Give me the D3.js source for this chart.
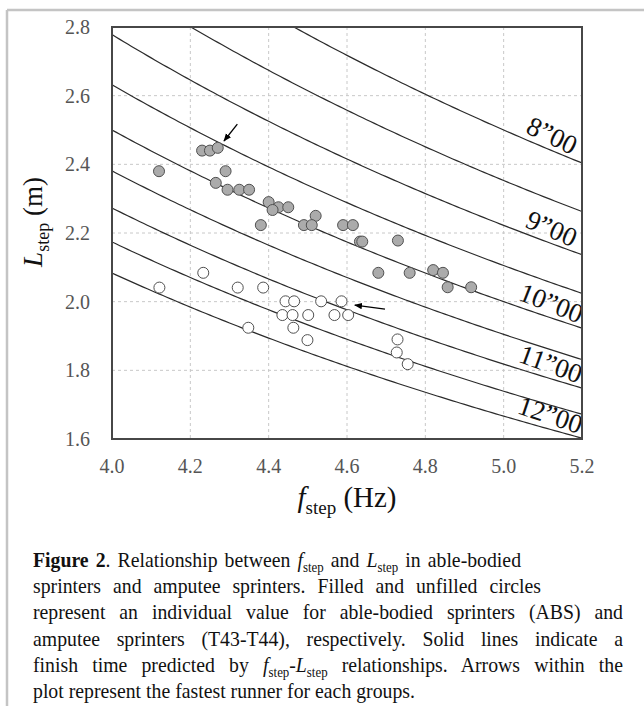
<!DOCTYPE html>
<html>
<head>
<meta charset="utf-8">
<script src="https://cdn.jsdelivr.net/npm/d3@7"></script>
<style>
  html, body { margin: 0; padding: 0; background: #fff; }
  svg { display: block; font-family: "Liberation Serif", "Times New Roman", serif; }
</style>
</head>
<body>
<svg id="fig" width="644" height="706"></svg>
<script>
// finish-time iso lines (s) and the ones carrying a label
const finishTimes = [8, 8.5, 9, 9.5, 10, 10.5, 11, 11.5, 12];
const labeledTimes = [8, 9, 10, 11, 12];
const timeLabels = ["8”00", "9”00", "10”00", "11”00", "12”00"];

const xTicks = [4.0, 4.2, 4.4, 4.6, 4.8, 5.0, 5.2];
const yTicks = [1.6, 1.8, 2.0, 2.2, 2.4, 2.6, 2.8];

// able-bodied sprinters (filled)
const absFreq = [4.12, 4.23, 4.25, 4.27, 4.29, 4.265, 4.295, 4.325, 4.35, 4.40, 4.425, 4.41, 4.45, 4.52,
                 4.38, 4.49, 4.51, 4.59, 4.615, 4.633, 4.639, 4.73, 4.68, 4.76, 4.82, 4.845, 4.857, 4.917];
const absLen  = [2.38, 2.44, 2.44, 2.448, 2.38, 2.346, 2.326, 2.326, 2.326, 2.29, 2.275, 2.267, 2.275, 2.25,
                 2.223, 2.223, 2.223, 2.223, 2.223, 2.175, 2.175, 2.178, 2.084, 2.084, 2.092, 2.084, 2.042, 2.042];

// amputee sprinters T43-T44 (unfilled)
const ampFreq = [4.233, 4.121, 4.321, 4.386, 4.443, 4.465, 4.534, 4.586, 4.435, 4.461, 4.501, 4.568,
                 4.603, 4.463, 4.348, 4.499, 4.729, 4.727, 4.755];
const ampLen  = [2.084, 2.041, 2.041, 2.041, 2.001, 2.001, 2.001, 2.001, 1.961, 1.961, 1.961, 1.961,
                 1.961, 1.924, 1.924, 1.888, 1.890, 1.852, 1.818];

// arrows marking the fastest runner of each group: [fromF, fromL, toF, toL]
const arrows = [[4.320, 2.517, 4.286, 2.468], [4.697, 1.978, 4.620, 1.990]];

const captionLines = [
  [["Figure 2", "b"], [". Relationship between "], ["f", "i"], ["step", "sub"], [" and "], ["L", "i"], ["step", "sub"], [" in able-bodied"]],
  [["sprinters and amputee sprinters. Filled and unfilled circles"]],
  [["represent an individual value for able-bodied sprinters (ABS) and"]],
  [["amputee sprinters (T43-T44), respectively. Solid lines indicate a"]],
  [["finish time predicted by "], ["f", "i"], ["step", "sub"], ["-"], ["L", "i"], ["step", "sub"], [" relationships. Arrows within the"]],
  [["plot represent the fastest runner for each groups."]]
];
// right edge of each caption line (null = natural spacing)
const captionEnds = [521, 541, 623, 623, 623, null];

const svg = d3.select("#fig");
const margin = { top: 27, left: 112 };
const width = 470, height = 412;
const serif = '"Liberation Serif", "Times New Roman", serif';

// outer figure frame (top and left edges only)
svg.append("line").attr("x1", 7).attr("x2", 644).attr("y1", 10).attr("y2", 10)
  .attr("stroke", "#c4c4c4").attr("stroke-width", 2.5);
svg.append("line").attr("x1", 7).attr("x2", 7).attr("y1", 10).attr("y2", 706)
  .attr("stroke", "#c4c4c4").attr("stroke-width", 2.5);

const x = d3.scaleLinear().domain([4.0, 5.2]).range([0, width]);
const y = d3.scaleLinear().domain([1.6, 2.8]).range([height, 0]);

const g = svg.append("g").attr("transform", `translate(${margin.left},${margin.top})`);

g.append("clipPath").attr("id", "clip")
  .append("rect").attr("width", width).attr("height", height);

// dashed grid
g.selectAll(".vgrid").data(xTicks.slice(1, -1)).enter().append("line")
  .attr("x1", d => x(d)).attr("x2", d => x(d)).attr("y1", 0).attr("y2", height)
  .attr("stroke", "#c8c8c8").attr("stroke-width", 1).attr("stroke-dasharray", "3,3");
g.selectAll(".hgrid").data(yTicks.slice(1, -1)).enter().append("line")
  .attr("x1", 0).attr("x2", width).attr("y1", d => y(d)).attr("y2", d => y(d))
  .attr("stroke", "#c8c8c8").attr("stroke-width", 1).attr("stroke-dasharray", "3,3");

// finish time lines: L = 100 / (T * f)
const fs = d3.range(4.0, 5.2001, 0.01);
const line = d3.line().x(d => x(d[0])).y(d => y(d[1]));
g.append("g").attr("clip-path", "url(#clip)")
  .selectAll("path").data(finishTimes).enter().append("path")
  .attr("d", T => line(fs.map(f => [f, 100 / (T * f)])))
  .attr("fill", "none").attr("stroke", "#2b2b2b").attr("stroke-width", 1.2);

// line labels, rotated along the curve
const labF = 5.108;
labeledTimes.forEach((T, i) => {
  const L = 100 / (T * labF);
  const px = x(labF), py = y(L);
  const slope = (y(100 / (T * (labF + 0.01))) - y(100 / (T * (labF - 0.01)))) / (x(labF + 0.01) - x(labF - 0.01));
  const ang = Math.atan(slope) * 180 / Math.PI + 3;
  g.append("text")
    .attr("transform", `translate(${px},${py}) rotate(${ang}) translate(0,-5)`)
    .attr("text-anchor", "middle").style("font-family", serif)
    .style("font-size", "27px").attr("fill", "#111")
    .text(timeLabels[i]);
});

// points
const absPts = absFreq.map((f, i) => [f, absLen[i]]);
const ampPts = ampFreq.map((f, i) => [f, ampLen[i]]);
g.selectAll(".abs").data(absPts).enter().append("circle")
  .attr("cx", d => x(d[0])).attr("cy", d => y(d[1])).attr("r", 5.5)
  .attr("fill", "#ababab").attr("stroke", "#505050").attr("stroke-width", 1);
g.selectAll(".amp").data(ampPts).enter().append("circle")
  .attr("cx", d => x(d[0])).attr("cy", d => y(d[1])).attr("r", 5.5)
  .attr("fill", "#fff").attr("stroke", "#505050").attr("stroke-width", 1);

// arrows
svg.append("defs").append("marker").attr("id", "head")
  .attr("viewBox", "0 0 10 10").attr("refX", 9).attr("refY", 5)
  .attr("markerWidth", 8).attr("markerHeight", 8).attr("orient", "auto")
  .attr("markerUnits", "userSpaceOnUse")
  .append("path").attr("d", "M0,1 L10,5 L0,9 Z").attr("fill", "#000");
g.selectAll(".arrow").data(arrows).enter().append("line")
  .attr("x1", d => x(d[0])).attr("y1", d => y(d[1]))
  .attr("x2", d => x(d[2])).attr("y2", d => y(d[3]))
  .attr("stroke", "#000").attr("stroke-width", 1.3).attr("marker-end", "url(#head)");

// plot border
g.append("rect").attr("width", width).attr("height", height)
  .attr("fill", "none").attr("stroke", "#474747").attr("stroke-width", 2);

// tick labels
g.selectAll(".xt").data(xTicks).enter().append("text")
  .attr("x", d => x(d)).attr("y", height + 34)
  .attr("text-anchor", "middle").style("font-family", serif)
  .style("font-size", "20px").attr("fill", "#555")
  .text(d => d.toFixed(1));
g.selectAll(".yt").data(yTicks).enter().append("text")
  .attr("x", -22).attr("y", d => y(d)).attr("dy", "0.35em")
  .attr("text-anchor", "end").style("font-family", serif)
  .style("font-size", "20px").attr("fill", "#555")
  .text(d => d.toFixed(1));

// axis titles
const xt = svg.append("text").attr("x", margin.left + width / 2).attr("y", 507)
  .attr("text-anchor", "middle").style("font-family", serif)
  .style("font-size", "29px").attr("fill", "#111");
xt.append("tspan").style("font-style", "italic").text("f");
xt.append("tspan").attr("dy", 7).style("font-size", "19px").text("step");
xt.append("tspan").attr("dy", -7).text(" (Hz)");

const yt = svg.append("text").attr("transform", "translate(42,222) rotate(-90)")
  .attr("text-anchor", "middle").style("font-family", serif)
  .style("font-size", "27px").attr("fill", "#111");
yt.append("tspan").style("font-style", "italic").text("L");
yt.append("tspan").attr("dy", 7).style("font-size", "18px").text("step");
yt.append("tspan").attr("dy", -7).text(" (m)");

// caption: slightly condensed glyphs, word spacing stretched to the original line ends
const capX = 33, capScale = 0.92;
const cap = svg.append("g").attr("transform", `translate(${capX},0) scale(${capScale},1)`)
  .style("font-family", serif).style("font-size", "21.5px").attr("fill", "#111");
captionLines.forEach((segs, i) => {
  const t = cap.append("text").attr("x", 0).attr("y", 567 + i * 26.2);
  let shifted = false;
  segs.forEach(s => {
    const sp = t.append("tspan").text(s[0]);
    if (s[1] === "b") sp.style("font-weight", "bold");
    if (s[1] === "i") sp.style("font-style", "italic");
    if (s[1] === "sub") { sp.attr("dy", 5).style("font-size", "14px"); shifted = true; }
    else if (shifted) { sp.attr("dy", -5); shifted = false; }
  });
  if (captionEnds[i]) {
    const natural = t.node().getComputedTextLength();
    const spaces = segs.map(s => s[0]).join("").split(" ").length - 1;
    const extra = Math.max(0, ((captionEnds[i] - capX) / capScale - natural) / spaces);
    t.style("word-spacing", `${extra}px`);
  }
});
</script>
</body>
</html>
